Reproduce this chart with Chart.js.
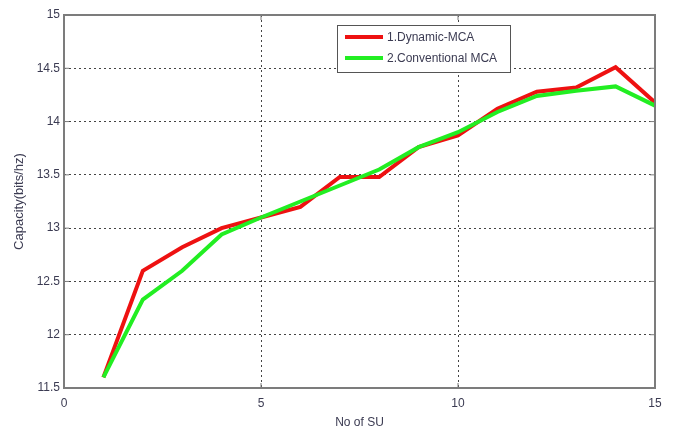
<!DOCTYPE html>
<html>
<head>
<meta charset="utf-8">
<script src="https://cdn.jsdelivr.net/npm/chart.js@4.4.1/dist/chart.umd.min.js"></script>
<style>
  html, body { margin:0; padding:0; background:#fff; }
  #wrap { width:678px; height:430px; }
</style>
</head>
<body>
<div id="wrap"><canvas id="c"></canvas></div>
<script>
// values
const suCount = [1,2,3,4,5,6,7,8,9,10,11,12,13,14,15];
const dynamicMca = [11.60,12.60,12.82,13.00,13.10,13.20,13.48,13.48,13.76,13.87,14.12,14.28,14.32,14.51,14.18];
const conventionalMca = [11.60,12.33,12.60,12.94,13.10,13.25,13.40,13.55,13.76,13.90,14.09,14.24,14.29,14.33,14.15];
const xTicks = [0,5,10,15];
const yTicks = [11.5,12,12.5,13,13.5,14,14.5,15];
const seriesNames = ['1.Dynamic-MCA','2.Conventional MCA'];

const textCol = '#3b3b52';
const font = {family:'Liberation Sans, Arial, sans-serif', size:12};

const pts = ys => suCount.map((x,i)=>({x:x, y:ys[i]}));

// frame round the plot + inward ticks + legend box
const framePlugin = {
  id:'frame',
  afterDraw(chart){
    const {ctx, chartArea:a, scales} = chart;
    ctx.save();
    ctx.strokeStyle = '#7c7c7c';
    ctx.lineWidth = 2;
    ctx.strokeRect(a.left, a.top, a.right-a.left, a.bottom-a.top);
    ctx.lineWidth = 1;
    ctx.beginPath();
    yTicks.forEach(v=>{
      const y = scales.y.getPixelForValue(v);
      ctx.moveTo(a.left, y); ctx.lineTo(a.left+5, y);
      ctx.moveTo(a.right, y); ctx.lineTo(a.right-5, y);
    });
    xTicks.forEach(v=>{
      const x = scales.x.getPixelForValue(v);
      ctx.moveTo(x, a.bottom); ctx.lineTo(x, a.bottom-5);
      ctx.moveTo(x, a.top); ctx.lineTo(x, a.top+5);
    });
    ctx.stroke();

    // legend
    const lx = 337, ly = 25, lw = 173, lh = 47;
    ctx.fillStyle = '#fff';
    ctx.fillRect(lx, ly, lw, lh);
    ctx.strokeStyle = '#555';
    ctx.lineWidth = 1;
    ctx.strokeRect(lx+0.5, ly+0.5, lw, lh);
    chart.data.datasets.forEach((d,i)=>{
      const yy = ly + 12 + i*21;
      ctx.strokeStyle = d.borderColor;
      ctx.lineWidth = 4;
      ctx.beginPath(); ctx.moveTo(lx+8, yy); ctx.lineTo(lx+46, yy); ctx.stroke();
      ctx.fillStyle = textCol;
      ctx.font = '12px ' + font.family;
      ctx.textBaseline = 'middle';
      ctx.fillText(d.label, lx+50, yy+1);
    });
    ctx.restore();
  }
};

new Chart(document.getElementById('c'), {
  type:'line',
  data:{
    datasets:[
      {label:seriesNames[0], data:pts(dynamicMca), borderColor:'#ee1111', borderWidth:4, pointRadius:0, tension:0, order:1},
      {label:seriesNames[1], data:pts(conventionalMca), borderColor:'#22ee22', borderWidth:4, pointRadius:0, tension:0, order:0}
    ]
  },
  options:{
    responsive:true,
    maintainAspectRatio:false,
    animation:false,
    layout:{padding:{top:15, right:23, left:0, bottom:0}},
    plugins:{legend:{display:false}, tooltip:{enabled:false}},
    scales:{
      x:{
        type:'linear', min:0, max:15,
        afterBuildTicks(s){ s.ticks = xTicks.map(v=>({value:v})); },
        afterFit(s){ s.height = 42; },
        grid:{
          color:c => (c.tick && (c.tick.value===0 || c.tick.value===15)) ? 'rgba(0,0,0,0)' : '#444',
          lineWidth:1, drawTicks:false
        },
        border:{display:false, dash:[2,3]},
        ticks:{color:textCol, font:font, padding:8, maxRotation:0, callback:v => String(v)},
        title:{display:true, text:'No of SU', color:textCol, font:font, padding:{top:2,bottom:0}}
      },
      y:{
        type:'linear', min:11.5, max:15,
        afterBuildTicks(s){ s.ticks = yTicks.map(v=>({value:v})); },
        afterFit(s){ s.width = 64; },
        grid:{
          color:c => (c.tick && (c.tick.value===11.5 || c.tick.value===15)) ? 'rgba(0,0,0,0)' : '#444',
          lineWidth:1, drawTicks:false
        },
        border:{display:false, dash:[2,3]},
        ticks:{color:textCol, font:font, padding:4, callback:v => String(v)},
        title:{display:true, text:'Capacity(bits/hz)', color:textCol, font:{family:font.family, size:13}, padding:{top:12,bottom:4}}
      }
    }
  },
  plugins:[framePlugin]
});
</script>
</body>
</html>
